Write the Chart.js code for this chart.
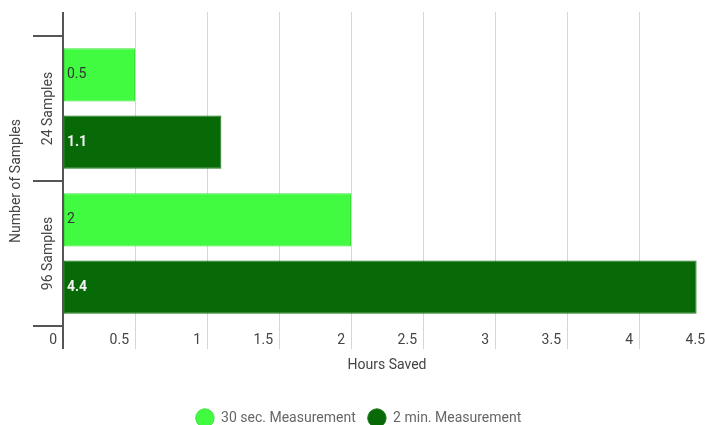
<!DOCTYPE html>
<html>
<head>
<meta charset="utf-8">
<script src="https://cdn.jsdelivr.net/npm/chart.js@4"></script>
<style>
  html, body { margin: 0; padding: 0; background: #fff; overflow: hidden; }
  /* the 4.5 gridline sits just past the right edge of the window */
  #wrap { width: 711px; height: 425px; }
</style>
</head>
<body>
<div id="wrap"><canvas id="chart"></canvas></div>
<script>
const categories = ['24 Samples', '96 Samples'];
const shortRun = [0.5, 2];     // 30 sec. Measurement
const longRun = [1.1, 4.4];    // 2 min. Measurement
const seriesNames = ['30 sec. Measurement', '2 min. Measurement'];
const xTicks = { min: 0, max: 4.5, step: 0.5 };

Chart.defaults.font.family = 'Roboto';
Chart.defaults.font.size = 14;

const gridColor = ctx => ctx.tick && ctx.tick.value === 0 ? '#555' : '#d6d6d6';
const gridWidth = ctx => ctx.tick && ctx.tick.value === 0 ? 2 : 1;

// value labels at the start of each bar
const barLabels = {
  id: 'barLabels',
  afterDatasetsDraw(chart) {
    const ctx = chart.ctx;
    ctx.save();
    ctx.textBaseline = 'middle';
    ctx.textAlign = 'left';
    chart.data.datasets.forEach((ds, i) => {
      const meta = chart.getDatasetMeta(i);
      ctx.fillStyle = i === 0 ? '#333' : '#f2f2f2';
      ctx.font = (i === 0 ? '' : 'bold ') + '14px Roboto';
      meta.data.forEach((bar, j) => {
        ctx.fillText(String(ds.data[j]), bar.base + 3, bar.y);
      });
    });
    ctx.restore();
  }
};

new Chart(document.getElementById('chart'), {
  type: 'bar',
  data: {
    labels: categories,
    datasets: [
      { label: seriesNames[0], data: shortRun, backgroundColor: '#40fb40', borderColor: '#3be23b', borderWidth: 1, borderSkipped: false },
      { label: seriesNames[1], data: longRun, backgroundColor: '#076a07', borderColor: '#1a7a1a', borderWidth: 1, borderSkipped: false }
    ]
  },
  options: {
    indexAxis: 'y',
    responsive: true,
    maintainAspectRatio: false,
    animation: false,
    categoryPercentage: 0.93,
    barPercentage: 0.79,
    layout: { padding: { top: 12, right: 0, bottom: -10, left: 6 } },
    scales: {
      x: {
        position: 'bottom',
        min: xTicks.min,
        max: xTicks.max,
        ticks: { stepSize: xTicks.step, align: 'end', labelOffset: -6, padding: -17, color: '#444', callback: v => v },
        grid: { color: gridColor, lineWidth: gridWidth, tickLength: 23 },
        border: { display: false },
        title: { display: true, text: 'Hours Saved', color: '#444', padding: { top: 0, bottom: 25 } },
        afterFit: s => { s.height = 73; }
      },
      x2: {
        position: 'top',
        min: xTicks.min,
        max: xTicks.max,
        ticks: { display: false, stepSize: xTicks.step },
        grid: { color: gridColor, lineWidth: gridWidth, tickLength: 24, drawOnChartArea: false },
        border: { display: false }
      },
      y: {
        ticks: { minRotation: 90, maxRotation: 90, crossAlign: 'center', padding: -52, color: '#444' },
        grid: { offset: true, drawOnChartArea: false, tickLength: 30, color: '#555', lineWidth: 2 },
        border: { display: false },
        title: { display: true, text: 'Number of Samples', color: '#444', padding: { top: 2, bottom: 0 } },
        afterFit: s => { s.width = 57; }
      }
    },
    plugins: {
      legend: {
        position: 'bottom',
        labels: { usePointStyle: true, pointStyle: 'circle', boxHeight: 13, pointStyleWidth: 18.4, color: '#666', padding: 12 }
      },
      tooltip: { enabled: false }
    }
  },
  plugins: [barLabels]
});
</script>
</body>
</html>
